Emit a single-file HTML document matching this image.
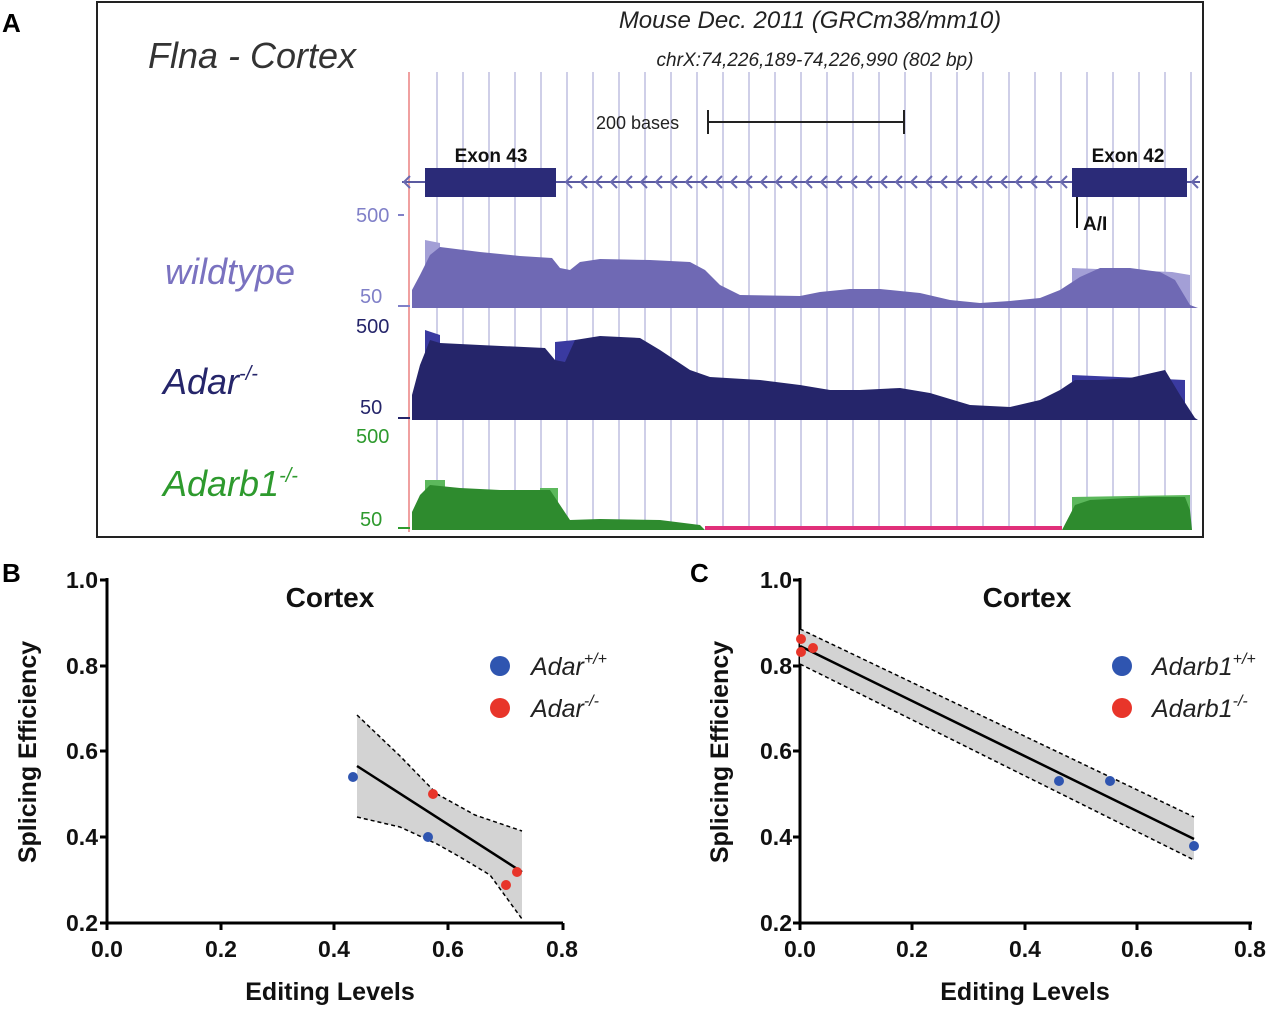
<!DOCTYPE html>
<html><head><meta charset="utf-8"><style>
body{margin:0;background:#fff;}
svg{display:block;font-family:"Liberation Sans",sans-serif;}
</style></head><body>
<svg width="1280" height="1010" viewBox="0 0 1280 1010" xmlns="http://www.w3.org/2000/svg">
<!-- Panel A -->
<text x="2" y="32" font-size="26" font-weight="bold">A</text>
<rect x="97" y="2" width="1106" height="535" fill="none" stroke="#222" stroke-width="2"/>
<text x="810" y="28" font-size="24" font-style="italic" text-anchor="middle" fill="#222">Mouse Dec. 2011 (GRCm38/mm10)</text>
<text x="815" y="66" font-size="19" font-style="italic" text-anchor="middle" fill="#222">chrX:74,226,189-74,226,990 (802 bp)</text>
<text x="148" y="68" font-size="36" font-style="italic" fill="#333">Flna - Cortex</text>
<g stroke="#cfcfe8" stroke-width="2">
<line x1="437" y1="72" x2="437" y2="530"/><line x1="463" y1="72" x2="463" y2="530"/><line x1="489" y1="72" x2="489" y2="530"/><line x1="515" y1="72" x2="515" y2="530"/><line x1="541" y1="72" x2="541" y2="530"/><line x1="567" y1="72" x2="567" y2="530"/><line x1="593" y1="72" x2="593" y2="530"/><line x1="619" y1="72" x2="619" y2="530"/><line x1="645" y1="72" x2="645" y2="530"/><line x1="671" y1="72" x2="671" y2="530"/><line x1="697" y1="72" x2="697" y2="530"/><line x1="723" y1="72" x2="723" y2="530"/><line x1="749" y1="72" x2="749" y2="530"/><line x1="775" y1="72" x2="775" y2="530"/><line x1="801" y1="72" x2="801" y2="530"/><line x1="827" y1="72" x2="827" y2="530"/><line x1="853" y1="72" x2="853" y2="530"/><line x1="879" y1="72" x2="879" y2="530"/><line x1="905" y1="72" x2="905" y2="530"/><line x1="931" y1="72" x2="931" y2="530"/><line x1="957" y1="72" x2="957" y2="530"/><line x1="983" y1="72" x2="983" y2="530"/><line x1="1009" y1="72" x2="1009" y2="530"/><line x1="1035" y1="72" x2="1035" y2="530"/><line x1="1061" y1="72" x2="1061" y2="530"/><line x1="1087" y1="72" x2="1087" y2="530"/><line x1="1113" y1="72" x2="1113" y2="530"/><line x1="1139" y1="72" x2="1139" y2="530"/><line x1="1165" y1="72" x2="1165" y2="530"/><line x1="1191" y1="72" x2="1191" y2="530"/>
</g>
<line x1="409" y1="72" x2="409" y2="532" stroke="#f0a0a0" stroke-width="2"/>
<text x="596" y="129" font-size="18" fill="#222">200 bases</text>
<line x1="708" y1="122" x2="904" y2="122" stroke="#222" stroke-width="2"/>
<line x1="708" y1="110" x2="708" y2="134" stroke="#222" stroke-width="2"/>
<line x1="904" y1="110" x2="904" y2="134" stroke="#222" stroke-width="2"/>
<line x1="402" y1="182" x2="1200" y2="182" stroke="#5a5aa0" stroke-width="2"/>
<g stroke="#6a6ab0" stroke-width="2" fill="none">
<path d="M410 176l-6 6 6 6M572 176l-6 6 6 6M587 176l-6 6 6 6M602 176l-6 6 6 6M617 176l-6 6 6 6M632 176l-6 6 6 6M647 176l-6 6 6 6M662 176l-6 6 6 6M677 176l-6 6 6 6M692 176l-6 6 6 6M707 176l-6 6 6 6M722 176l-6 6 6 6M737 176l-6 6 6 6M752 176l-6 6 6 6M767 176l-6 6 6 6M782 176l-6 6 6 6M797 176l-6 6 6 6M812 176l-6 6 6 6M827 176l-6 6 6 6M842 176l-6 6 6 6M857 176l-6 6 6 6M872 176l-6 6 6 6M887 176l-6 6 6 6M902 176l-6 6 6 6M917 176l-6 6 6 6M932 176l-6 6 6 6M947 176l-6 6 6 6M962 176l-6 6 6 6M977 176l-6 6 6 6M992 176l-6 6 6 6M1007 176l-6 6 6 6M1022 176l-6 6 6 6M1037 176l-6 6 6 6M1052 176l-6 6 6 6M1067 176l-6 6 6 6M1198 176l-6 6 6 6"/>
</g>
<rect x="425" y="168" width="131" height="29" fill="#2b2b78"/>
<rect x="1072" y="168" width="115" height="29" fill="#2b2b78"/>
<text x="491" y="162" font-size="19" font-weight="bold" text-anchor="middle" fill="#111">Exon 43</text>
<text x="1128" y="162" font-size="19" font-weight="bold" text-anchor="middle" fill="#111">Exon 42</text>
<line x1="1077" y1="197" x2="1077" y2="228" stroke="#111" stroke-width="2"/>
<text x="1083" y="230" font-size="19" font-weight="bold" fill="#111">A/I</text>
<text x="356" y="222" font-size="20" fill="#8080c8">500</text>
<text x="360" y="303" font-size="20" fill="#8080c8">50</text>
<line x1="398" y1="215" x2="404" y2="215" stroke="#8080c8" stroke-width="2"/>
<line x1="398" y1="306" x2="410" y2="306" stroke="#8080c8" stroke-width="2"/>
<text x="165" y="284" font-size="36" font-style="italic" fill="#7a72c0">wildtype</text>
<text x="356" y="333" font-size="20" fill="#25256a">500</text>
<text x="360" y="414" font-size="20" fill="#25256a">50</text>
<line x1="398" y1="418" x2="410" y2="418" stroke="#25256a" stroke-width="2"/>
<text x="163" y="394" font-size="36" font-style="italic" fill="#25256a">Adar<tspan font-size="20" dy="-14">-/-</tspan></text>
<text x="356" y="443" font-size="20" fill="#2e9a2e">500</text>
<text x="360" y="526" font-size="20" fill="#2e9a2e">50</text>
<line x1="398" y1="528" x2="410" y2="528" stroke="#2e9a2e" stroke-width="2"/>
<text x="163" y="496" font-size="36" font-style="italic" fill="#2e9a2e">Adarb1<tspan font-size="20" dy="-14">-/-</tspan></text>
<path d="M425 308L425 240L440 243L440 308Z M1072 308L1072 268L1172 272L1190 275L1190 308Z" fill="#a39fd6"/>
<path d="M412 308L412 290L420 275L430 255L440 247L480 252L520 256L552 258L560 268L570 270L580 262L600 259L650 260L690 262L705 270L720 285L740 295L800 296L820 292L850 289L880 289L920 293L950 300L980 303L1010 301L1040 298L1060 290L1080 277L1100 268L1130 268L1160 272L1175 280L1190 305L1198 308Z" fill="#6f69b4"/>
<path d="M425 420L425 330L440 335L440 420Z M555 420L555 342L575 340L575 420Z M1072 420L1072 375L1185 380L1185 420Z" fill="#3a3aa0"/>
<path d="M412 420L412 395L420 365L430 340L440 343L480 345L545 348L555 360L565 362L575 340L600 336L640 338L660 350L690 370L710 377L760 380L800 385L830 390L860 390L900 388L930 393L970 405L1010 407L1040 400L1060 390L1075 380L1100 380L1130 378L1165 370L1180 395L1195 418L1198 420Z" fill="#25256a"/>
<path d="M425 530L425 480L445 480L445 530Z M540 530L540 488L558 488L558 530Z M1072 530L1072 497L1190 495L1190 530Z" fill="#5cb85c"/>
<path d="M412 530L412 512L420 495L430 485L460 488L500 490L550 490L560 505L570 520L600 519L660 520L700 525L705 530Z M1062 530L1075 505L1090 500L1150 497L1185 497L1190 510L1192 530Z" fill="#2e8b2e"/>
<line x1="705" y1="528" x2="1062" y2="528" stroke="#e0307a" stroke-width="4"/>

<!-- Panel B -->
<text x="2" y="582" font-size="26" font-weight="bold">B</text>
<g font-weight="bold" fill="#111">
<text x="330" y="607" font-size="28" text-anchor="middle">Cortex</text>
<text x="36" y="752" font-size="25" text-anchor="middle" transform="rotate(-90 36 752)">Splicing Efficiency</text>
<text x="330" y="1000" font-size="25" text-anchor="middle">Editing Levels</text>
<g font-size="23" text-anchor="end">
<text x="98" y="588">1.0</text><text x="98" y="674">0.8</text><text x="98" y="759">0.6</text><text x="98" y="845">0.4</text><text x="98" y="931">0.2</text>
</g>
<g font-size="23" text-anchor="middle">
<text x="107" y="957">0.0</text><text x="221" y="957">0.2</text><text x="334" y="957">0.4</text><text x="448" y="957">0.6</text><text x="562" y="957">0.8</text>
</g>
</g>
<g stroke="#000" stroke-width="3" fill="none">
<path d="M107 578V923H563"/>
<path d="M100 580H107M100 666H107M100 751H107M100 837H107M100 923H107M107 923V930M221 923V930M334 923V930M448 923V930M563 923V930"/>
</g>
<path d="M357 715L400 756L437 794L475 815L522 831L522 919L490 875L460 857L437 844L400 827L357 817Z" fill="#d3d3d3"/>
<path d="M357 715L400 756L437 794L475 815L522 831" fill="none" stroke="#000" stroke-width="1.5" stroke-dasharray="4,3"/>
<path d="M357 817L400 827L437 844L460 857L490 875L522 919" fill="none" stroke="#000" stroke-width="1.5" stroke-dasharray="4,3"/>
<line x1="357" y1="766" x2="522" y2="872" stroke="#000" stroke-width="2.5"/>
<circle cx="353" cy="777" r="5" fill="#2f55b0"/>
<circle cx="428" cy="837" r="5" fill="#2f55b0"/>
<circle cx="433" cy="794" r="5" fill="#e8352a"/>
<circle cx="506" cy="885" r="5" fill="#e8352a"/>
<circle cx="517" cy="872" r="5" fill="#e8352a"/>
<circle cx="500" cy="666" r="10" fill="#2f55b0"/>
<circle cx="500" cy="708" r="10" fill="#e8352a"/>
<text x="531" y="675" font-size="25" font-style="italic" fill="#222">Adar<tspan font-size="16" dy="-11">+/+</tspan></text>
<text x="531" y="717" font-size="25" font-style="italic" fill="#222">Adar<tspan font-size="16" dy="-11">-/-</tspan></text>

<!-- Panel C -->
<text x="690" y="582" font-size="26" font-weight="bold">C</text>
<g font-weight="bold" fill="#111">
<text x="1027" y="607" font-size="28" text-anchor="middle">Cortex</text>
<text x="728" y="752" font-size="25" text-anchor="middle" transform="rotate(-90 728 752)">Splicing Efficiency</text>
<text x="1025" y="1000" font-size="25" text-anchor="middle">Editing Levels</text>
<g font-size="23" text-anchor="end">
<text x="792" y="588">1.0</text><text x="792" y="674">0.8</text><text x="792" y="759">0.6</text><text x="792" y="845">0.4</text><text x="792" y="931">0.2</text>
</g>
<g font-size="23" text-anchor="middle">
<text x="800" y="957">0.0</text><text x="912" y="957">0.2</text><text x="1025" y="957">0.4</text><text x="1137" y="957">0.6</text><text x="1250" y="957">0.8</text>
</g>
</g>
<g stroke="#000" stroke-width="3" fill="none">
<path d="M800 578V923H1252"/>
<path d="M793 580H800M793 666H800M793 751H800M793 837H800M793 923H800M800 923V930M912 923V930M1025 923V930M1137 923V930M1250 923V930"/>
</g>
<path d="M800 629L1194 817L1194 860L800 664Z" fill="#d3d3d3"/>
<line x1="800" y1="629" x2="1194" y2="817" stroke="#000" stroke-width="1.5" stroke-dasharray="4,3"/>
<line x1="800" y1="664" x2="1194" y2="860" stroke="#000" stroke-width="1.5" stroke-dasharray="4,3"/>
<line x1="800" y1="646" x2="1194" y2="839" stroke="#000" stroke-width="2.5"/>
<circle cx="801" cy="639" r="5" fill="#e8352a"/>
<circle cx="801" cy="652" r="5" fill="#e8352a"/>
<circle cx="813" cy="648" r="5" fill="#e8352a"/>
<circle cx="1059" cy="781" r="5" fill="#2f55b0"/>
<circle cx="1110" cy="781" r="5" fill="#2f55b0"/>
<circle cx="1194" cy="846" r="5" fill="#2f55b0"/>
<circle cx="1122" cy="666" r="10" fill="#2f55b0"/>
<circle cx="1122" cy="708" r="10" fill="#e8352a"/>
<text x="1152" y="675" font-size="25" font-style="italic" fill="#222">Adarb1<tspan font-size="16" dy="-11">+/+</tspan></text>
<text x="1152" y="717" font-size="25" font-style="italic" fill="#222">Adarb1<tspan font-size="16" dy="-11">-/-</tspan></text>
</svg>
</body></html>
